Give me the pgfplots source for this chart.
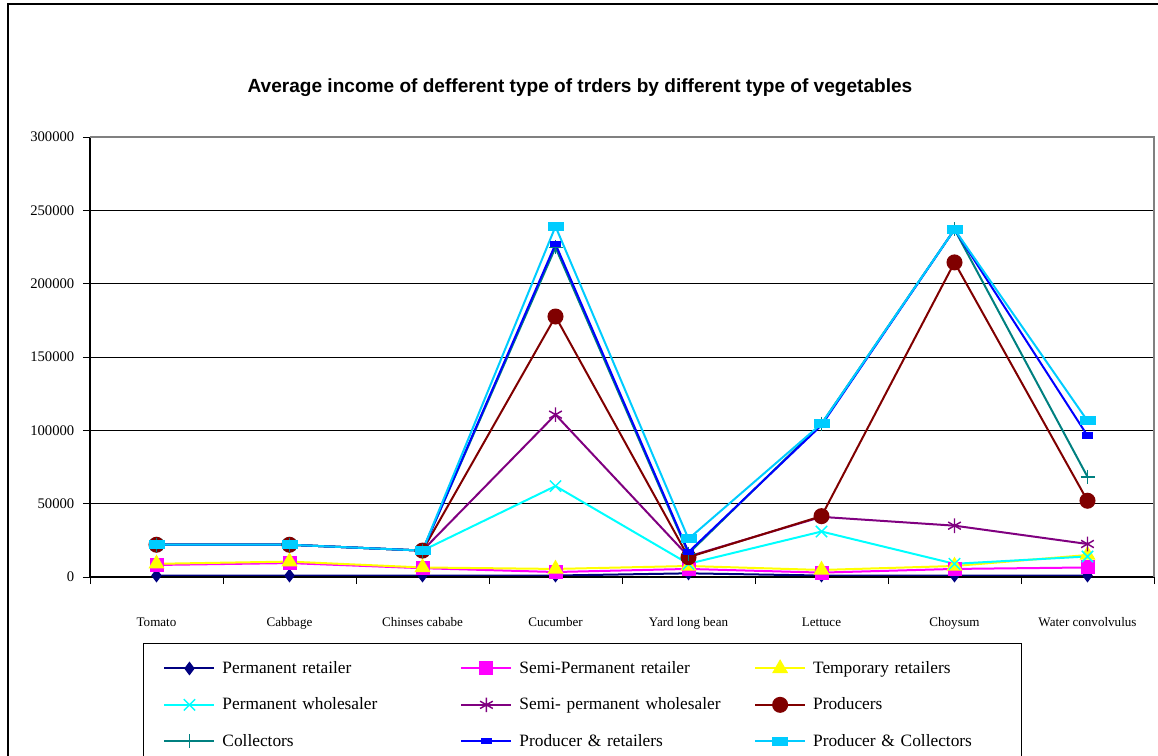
\documentclass[border=0pt]{standalone}
\usepackage{pgfplots}
\pgfplotsset{compat=1.18}
\usepackage{fontspec}
\setmainfont{Liberation Serif}
\newfontfamily\titlefont{Liberation Sans}
\definecolor{cNavy}{RGB}{0,0,128}
\definecolor{cMag}{RGB}{255,0,255}
\definecolor{cYel}{RGB}{255,255,0}
\definecolor{cCyan}{RGB}{0,255,255}
\definecolor{cPurp}{RGB}{128,0,128}
\definecolor{cBrown}{RGB}{128,0,0}
\definecolor{cTeal}{RGB}{0,128,128}
\definecolor{cBlue}{RGB}{0,0,255}
\definecolor{cSky}{RGB}{0,204,255}
\pgfdeclareplotmark{hrect}{%
  \pgfpathrectangle{\pgfpoint{-\pgfplotmarksize}{-0.5\pgfplotmarksize}}{\pgfpoint{2\pgfplotmarksize}{\pgfplotmarksize}}%
  \pgfusepathqfillstroke}
\begin{document}
\begin{tikzpicture}
\path[use as bounding box] (0pt,0pt) rectangle (868.5pt,-567pt);
\clip (0pt,0pt) rectangle (868.5pt,-567pt);
\draw[line width=1.1pt] (6pt,-600pt) -- (6pt,-3pt) -- (900pt,-3pt);
\node[font=\titlefont\bfseries\fontsize{14.3}{17}\selectfont] at (435pt,-66pt) {Average income of defferent type of trders by different type of vegetables};
\begin{axis}[
  at={(67.5pt,-432.75pt)}, anchor=south west,
  scale only axis, width=798pt, height=330pt,
  xmin=0, xmax=8, ymin=0, ymax=300000,
  clip=false,
  axis line style={draw=none},
  xtick={0,...,8}, xticklabels={},
  ytick={0,50000,...,300000},
  tick pos=left, tick align=outside,
  major tick length=5.25pt,
  tick style={black, line width=0.7pt},
  ymajorgrids, grid style={black, line width=0.7pt},
  yticklabel style={font=\fontsize{11}{12}\selectfont, xshift=-3pt},
  /pgf/number format/.cd, fixed, 1000 sep={}, assume math mode=true,
  /pgfplots/.cd,
  scaled y ticks=false,
  extra x ticks={0.5,1.5,...,7.5},
  extra x tick labels={Tomato,Cabbage,Chinses cababe,Cucumber,Yard long bean,Lettuce,Choysum,Water convolvulus},
  extra x tick style={major tick length=0pt, tick style={draw=none},
     xticklabel style={font=\fontsize{9.8}{12}\selectfont, yshift=-27pt}},
  every axis plot/.append style={line width=1.5pt},
  legend columns=3,
  legend style={at={(0.0498,-0.15)}, anchor=north west, draw=black, line width=0.7pt,
     inner xsep=15pt, inner ysep=11.5pt,
     font=\fontsize{13}{15}\selectfont,
     nodes={text width=139.5pt, align=left, inner xsep=2pt, inner ysep=2pt},
     row sep=12.75pt,
     /tikz/every odd column/.append style={column sep=3.25pt},
     /tikz/column 2/.append style={column sep=37pt},
     /tikz/column 4/.append style={column sep=34.5pt}},
  legend image code/.code={\draw[mark repeat=2,mark phase=2] plot coordinates {(0pt,0pt)(18.75pt,0pt)(37.5pt,0pt)};},
]
\addplot[cNavy, mark=diamond*, mark size=4pt] coordinates {(0.5,1000)(1.5,1000)(2.5,1000)(3.5,1000)(4.5,2500)(5.5,1000)(6.5,1000)(7.5,1000)};
\addlegendentry{Permanent retailer}
\addplot[cMag, mark=square*, mark size=4.5pt] coordinates {(0.5,8200)(1.5,9500)(2.5,6000)(3.5,3400)(4.5,5500)(5.5,3000)(6.5,5500)(7.5,6500)};
\addlegendentry{Semi-Permanent retailer}
\addplot[cYel, mark=triangle*, mark size=5.5pt] coordinates {(0.5,9000)(1.5,10500)(2.5,6500)(3.5,5500)(4.5,7500)(5.5,4800)(6.5,7500)(7.5,15000)};
\addlegendentry{Temporary retailers}
\addplot[cCyan, mark=x, mark size=6pt, mark options={line width=1.1pt}] coordinates {(0.5,22000)(1.5,22000)(2.5,18000)(3.5,62000)(4.5,9000)(5.5,31000)(6.5,9000)(7.5,14000)};
\addlegendentry{Permanent wholesaler}
\addplot[cPurp, mark=asterisk, mark size=5.5pt, mark options={line width=1.1pt}] coordinates {(0.5,22000)(1.5,22000)(2.5,18000)(3.5,110700)(4.5,14000)(5.5,41000)(6.5,35000)(7.5,22500)};
\addlegendentry{\mbox{Semi- permanent wholesaler}}
\addplot[cBrown, mark=*, mark size=5.25pt] coordinates {(0.5,22000)(1.5,22000)(2.5,18000)(3.5,177600)(4.5,13500)(5.5,41500)(6.5,214500)(7.5,52000)};
\addlegendentry{Producers}
\addplot[cTeal, mark=+, mark size=5.25pt, mark options={line width=1.1pt}] coordinates {(0.5,22000)(1.5,22000)(2.5,18000)(3.5,224700)(4.5,16000)(5.5,104500)(6.5,237000)(7.5,68300)};
\addlegendentry{Collectors}
\addplot[cBlue, mark=hrect, mark size=3.4pt] coordinates {(0.5,22000)(1.5,22000)(2.5,18000)(3.5,227000)(4.5,17000)(5.5,103500)(6.5,237000)(7.5,96300)};
\addlegendentry{Producer \& retailers}
\addplot[cSky, mark=hrect, mark size=5.25pt] coordinates {(0.5,22000)(1.5,22000)(2.5,18000)(3.5,239000)(4.5,26000)(5.5,104500)(6.5,237000)(7.5,106500)};
\addlegendentry{\mbox{Producer \& Collectors}}
\draw[black, line width=0.8pt] (rel axis cs:0,1) -- (rel axis cs:0,0) -- (rel axis cs:1,0);
\draw[gray, line width=1.2pt] (rel axis cs:0,1) -- (rel axis cs:1,1) -- (rel axis cs:1,0);
\end{axis}
\end{tikzpicture}
\end{document}
